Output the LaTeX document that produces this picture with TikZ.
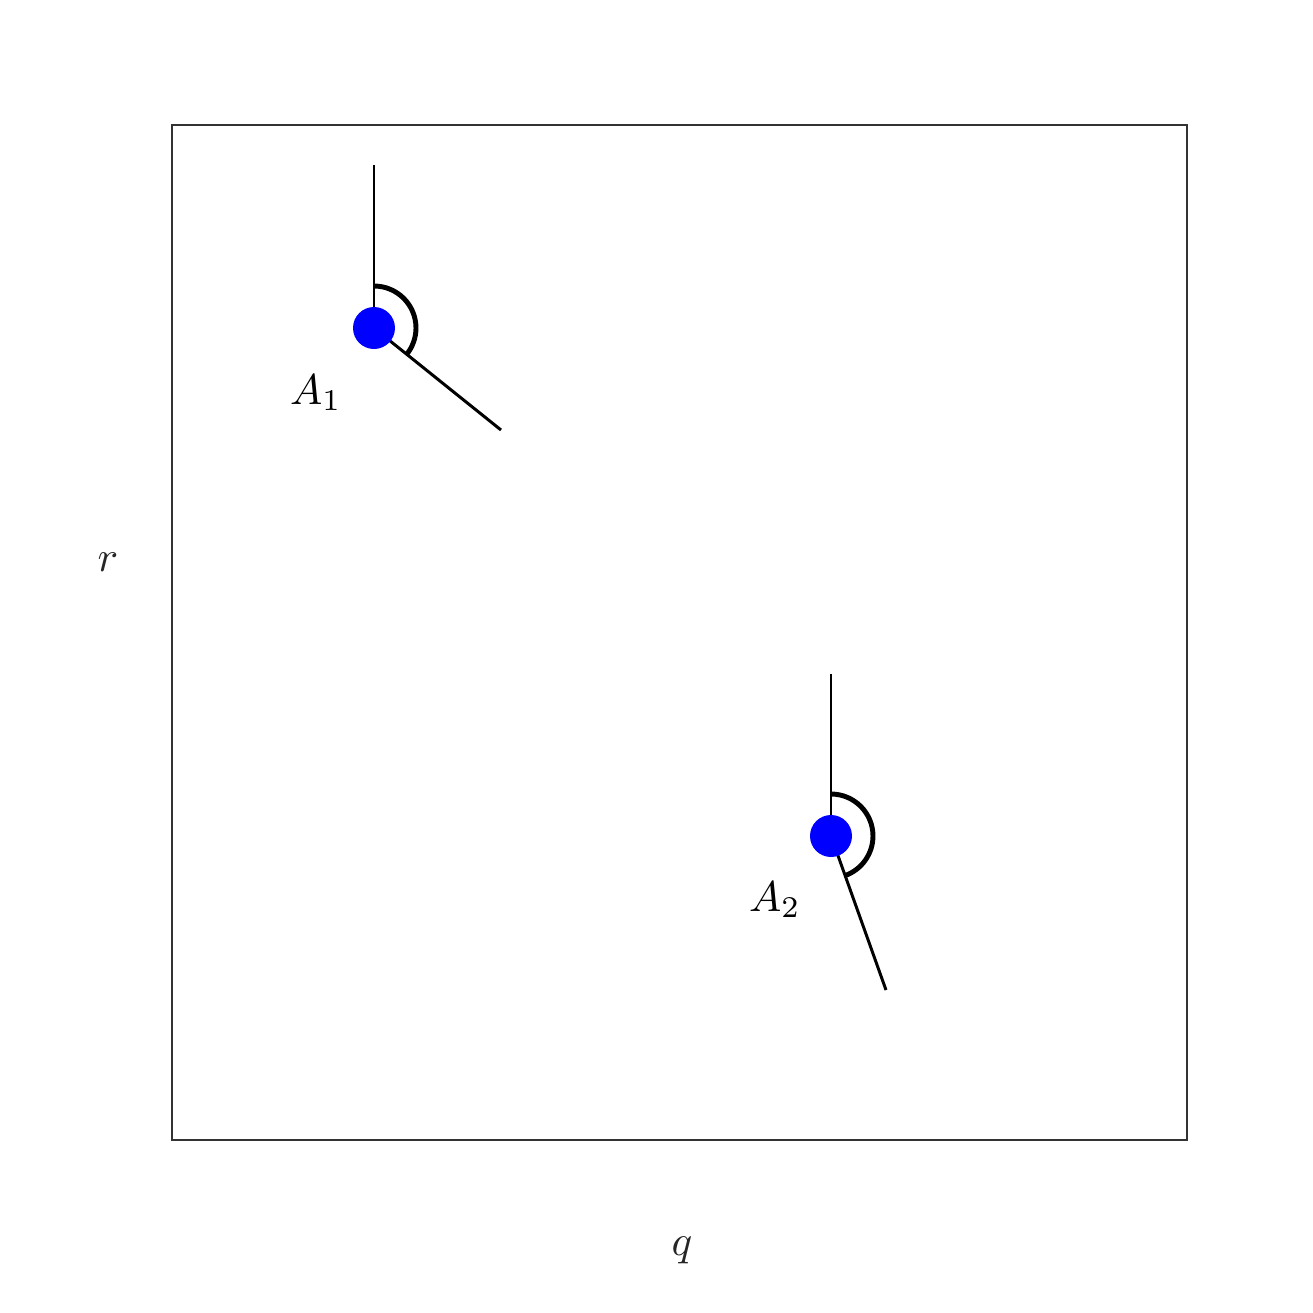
\documentclass[tikz,border=0pt]{standalone}
\begin{document}
\begin{tikzpicture}[x=0.02cm,y=-0.02cm,
  seg/.style={line width=1.7pt},
  arcst/.style={line width=2.8pt},
  dotst/.style={circle,fill=blue,minimum size=0.84cm,inner sep=0pt},
  lab/.style={inner sep=0pt}]
\useasboundingbox (0,0) rectangle (1313,1313);
\draw[line width=0.85pt,draw=black!80] (172,125) rectangle (1187,1140);
\node[lab,text=black!85] (r) at (108,562) {\scalebox{2.45}{$r$}};
\node[lab,text=black!85] (q) at (682,1250) {\scalebox{2.45}{$q$}};
% A1
\coordinate (p1) at (374,328);
\coordinate (t1) at (374,165);
\coordinate (e1) at (501,430);
\draw[seg] (p1) -- (t1);
\draw[seg] (p1) -- (e1);
\draw[arcst] ([shift={(90:0.84cm)}]p1) arc[start angle=90,end angle=-38.8,radius=0.84cm];
\node[dotst] (d1) at (p1) {};
\node[lab] (l1) at (316,393) {\scalebox{2.45}{$A_1$}};
% A2
\coordinate (p2) at (831,836);
\coordinate (t2) at (831,674);
\coordinate (e2) at (886,990);
\draw[seg] (p2) -- (t2);
\draw[seg] (p2) -- (e2);
\draw[arcst] ([shift={(90:0.84cm)}]p2) arc[start angle=90,end angle=-70.3,radius=0.84cm];
\node[dotst] (d2) at (p2) {};
\node[lab] (l2) at (775,900) {\scalebox{2.45}{$A_2$}};
\end{tikzpicture}
\end{document}
